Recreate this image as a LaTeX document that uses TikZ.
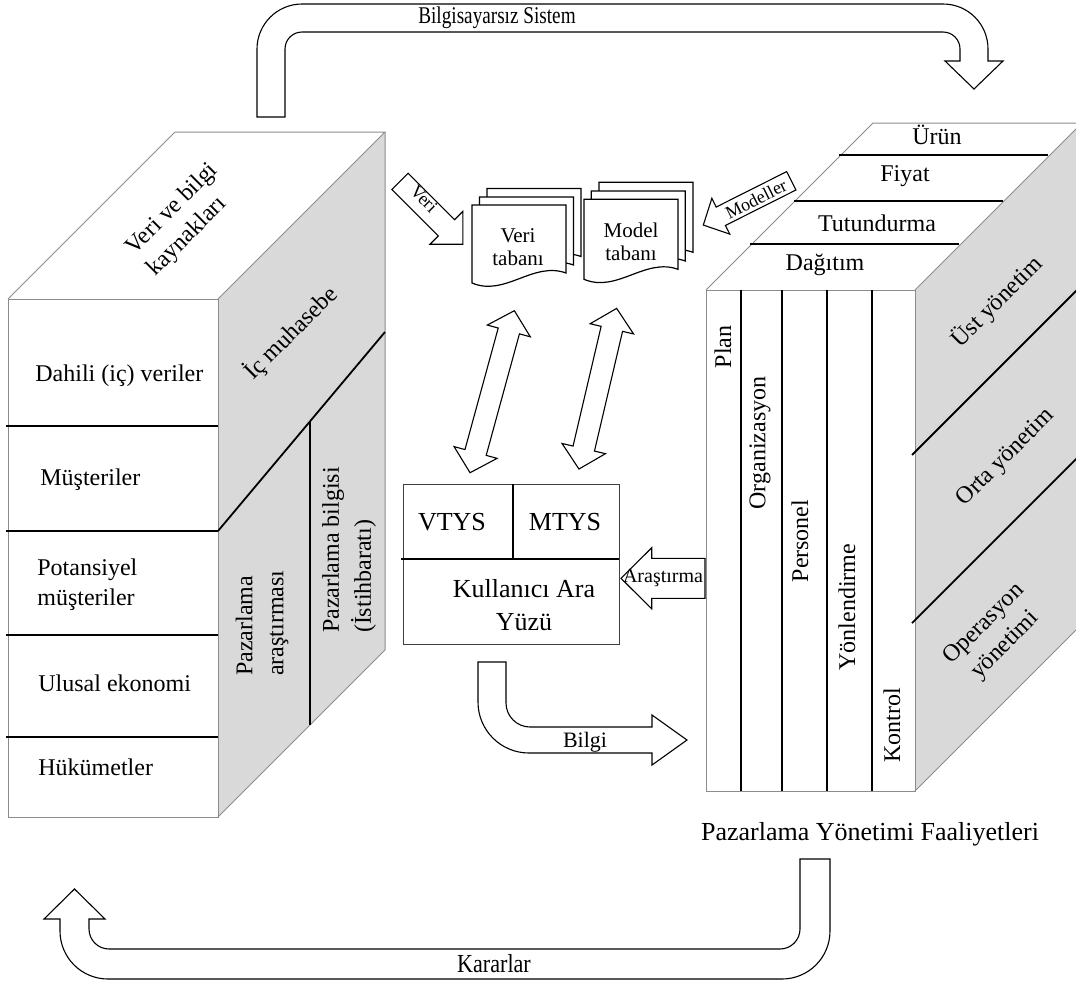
\documentclass[tikz,border=0pt]{standalone}
\usepackage{fontspec}
\setmainfont{Liberation Serif}
\definecolor{sidegray}{HTML}{D9D9D9}
\definecolor{edgegray}{HTML}{8C8C8C}
\begin{document}
\begin{tikzpicture}[x=0.5pt,y=-0.5pt,
  edge/.style={draw=edgegray, line width=0.5pt},
  boxedge/.style={draw=black!75, line width=0.5pt},
  divider/.style={draw=black, line width=0.9pt},
  blockline/.style={draw=black, line width=0.55pt, fill=white, line join=miter},
  docline/.style={draw=black, line width=0.6pt, fill=white},
  txt/.style={font=\fontsize{12}{15}\selectfont, inner sep=0pt, align=center},
  bigtxt/.style={font=\fontsize{13}{16.5}\selectfont, inner sep=0pt, align=center},
  doctxt/.style={font=\fontsize{10.5}{11.5}\selectfont, inner sep=0pt, align=center},
  arrtxt/.style={font=\fontsize{9}{10}\selectfont, inner sep=0pt},
  pics/sarrow/.style n args={4}{code={
    \draw[blockline] (0,-#2) -- ({#1-#4},-#2) -- ({#1-#4},-#3) -- (#1,0)
      -- ({#1-#4},#3) -- ({#1-#4},#2) -- (0,#2) -- cycle;
  }},
  pics/darrow/.style n args={4}{code={
    \draw[blockline] ({-#1/2},0) -- ({-#1/2+#4},#3) -- ({-#1/2+#4},#2)
      -- ({#1/2-#4},#2) -- ({#1/2-#4},#3) -- ({#1/2},0) -- ({#1/2-#4},-#3)
      -- ({#1/2-#4},-#2) -- ({-#1/2+#4},-#2) -- ({-#1/2+#4},-#3) -- cycle;
  }},
  pics/doc/.style n args={2}{code={
    \draw[docline] (0,0) -- (#1,0) -- (#1,{#2-10})
      .. controls ({0.65*#1},{#2-22}) and ({0.35*#1},{#2+14}) .. (0,#2) -- cycle;
  }},
]
\useasboundingbox (0,0) rectangle (1076,986);
\clip (0,0) rectangle (1076,986);

% ---------- data and information sources (left block) ----------
\fill[sidegray] (218,299) -- (385,132) -- (385,650) -- (218,817) -- cycle;
\draw[edge] (8,299) rectangle (218,817);
\draw[edge] (8,299) -- (175,132) -- (385,132) -- (218,299);
\draw[edge] (385,132) -- (385,650) -- (218,817);
\foreach \yy in {426,531,635,737} \draw[divider] (6,\yy) -- (218,\yy);
\draw[divider] (218,531) -- (385,332);
\draw[divider] (310,422) -- (310,725);

\node[txt, rotate=45, align=left] (sources) at (183,220) {Veri ve bilgi\\kaynakları};
\node[txt, rotate=45] (accounting) at (291,333) {İç muhasebe};
\node[txt, anchor=west] (internal) at (35,376) {Dahili (iç) veriler};
\node[txt, anchor=west] (customers) at (40,480) {Müşteriler};
\node[txt, anchor=west, align=left] (prospects) at (37,585) {Potansiyel\\müşteriler};
\node[txt, anchor=west] (economy) at (38,683) {Ulusal ekonomi};
\node[txt, anchor=west] (government) at (38,767) {Hükümetler};
\node[txt, rotate=90, align=left, font=\fontsize{12}{15.5}\selectfont] (research) at (262,623) {Pazarlama\\araştırması};
\node[txt, rotate=90, align=left, font=\fontsize{12}{16}\selectfont] (intel) at (349,550) {Pazarlama bilgisi\\(İstihbaratı)};

% ---------- marketing management activities (right block) ----------
\fill[sidegray] (915,290) -- (1082,123) -- (1082,624) -- (915,791) -- cycle;
\draw[edge] (706,290) rectangle (915,791);
\draw[edge] (706,290) -- (873,123) -- (1082,123) -- (915,290);
\draw[edge] (1082,123) -- (1082,624) -- (915,791);
\draw[divider] (839,155) -- (1048,155);
\draw[divider] (794,201) -- (1003,201);
\draw[divider] (750,244) -- (959,244);
\foreach \xx in {741,782,827,872} \draw[divider] (\xx,290) -- (\xx,791);
\draw[divider] (912,455) -- (1082,285);
\draw[divider] (912,623) -- (1082,453);

\node[txt] (product) at (937,135) {Ürün};
\node[txt] (price) at (905,176) {Fiyat};
\node[txt] (promotion) at (877,223) {Tutundurma};
\node[txt] (distribution) at (825,265) {Dağıtım};
\node[txt, rotate=90] (plan) at (723,347) {Plan};
\node[txt, rotate=90] (organize) at (760,443) {Organizasyon};
\node[txt, rotate=90] (staff) at (800,541) {Personel};
\node[txt, rotate=90] (direct) at (847,607) {Yönlendirme};
\node[txt, rotate=90] (control) at (892,725) {Kontrol};
\node[txt, rotate=45] (top) at (997,302) {Üst yönetim};
\node[txt, rotate=45] (middle) at (1006,458) {Orta yönetim};
\node[txt, rotate=45] (operations) at (995,635) {Operasyon\\yönetimi};
\node[bigtxt] (activities) at (870,834) {Pazarlama Yönetimi Faaliyetleri};

% ---------- data base and model base ----------
\pic at (487,188.5) {doc={94}{78}};
\pic at (479.5,197) {doc={94}{78}};
\pic at (472,205) {doc={94}{78}};
\node[doctxt] (database) at (518,247) {Veri\\tabanı};
\pic at (599,182.3) {doc={94}{80}};
\pic at (591.3,191) {doc={94}{80}};
\pic at (584,199.3) {doc={94}{80}};
\node[doctxt] (modelbase) at (631,242) {Model\\tabanı};

% ---------- management systems and user interface ----------
\draw[boxedge] (403,484) rectangle (619,644);
\draw[divider] (401,559) -- (619,559);
\draw[divider] (513,484) -- (513,559);
\node[bigtxt] (dbms) at (452,522) {VTYS};
\node[bigtxt] (mbms) at (565,522) {MTYS};
\node[bigtxt] (ui) at (524,605) {Kullanıcı Ara\\Yüzü};

% ---------- block arrows ----------
\pic[rotate=-45] at (400,181.3) {sarrow={89}{11.5}{23.3}{23.3}};
\node[arrtxt, rotate=-45] (datain) at (424,199) {Veri};
\pic[rotate=206.7] at (791.3,180.8) {sarrow={98.5}{10.3}{20}{19.6}};
\node[arrtxt, rotate=26.7] (modelsin) at (756,199) {Modeller};
\pic[rotate=180] at (705,578.3) {sarrow={84}{20}{30.5}{30.7}};
\node[arrtxt, font=\fontsize{10}{11}\selectfont] (query) at (663,578) {Araştırma};
\pic[rotate=74.7] at (492.2,391.7) {darrow={168}{11}{22.3}{21}};
\pic[rotate=76.8] at (597.8,388.7) {darrow={165}{11}{22.3}{21}};

% information flow to the activities
\draw[blockline] (478,662) -- (506,662) -- (506,703)
  .. controls (506,716.2) and (516.8,727) .. (530,727) -- (652,727)
  -- (652,715) -- (687,740) -- (652,765) -- (652,753) -- (529,753)
  .. controls (500.8,753) and (478,730.2) .. (478,702) -- cycle;
\node[arrtxt, font=\fontsize{11}{12}\selectfont] (info) at (585,742) {Bilgi};

% manual system loop at the top
\draw[blockline] (257,117) -- (257,49) .. controls (257,24.2) and (277.2,4) .. (302,4)
  -- (943,4) .. controls (968.2,4) and (988,24.2) .. (988,49) -- (988,61)
  -- (1003,61) -- (974,89) -- (945,61) -- (960,61) -- (960,49)
  .. controls (960,39.6) and (952.4,32) .. (943,32) -- (302,32)
  .. controls (292.6,32) and (285,39.6) .. (285,49) -- (285,117) -- cycle;
\node[arrtxt, font=\fontsize{12}{13}\selectfont] (manual) at (497,18) {\scalebox{0.8}[1]{Bilgisayarsız Sistem}};

% decisions loop at the bottom
\draw[blockline] (800,859) -- (830,859) -- (830,931)
  .. controls (830,957.5) and (808.5,979) .. (782,979) -- (108,979)
  .. controls (81.5,979) and (60,957.5) .. (60,931) -- (60,919)
  -- (44,919) -- (74.5,889) -- (105,919) -- (89,919) -- (89,929)
  .. controls (89,940) and (98,949) .. (109,949) -- (780,949)
  .. controls (791,949) and (800,940) .. (800,929) -- cycle;
\node[arrtxt, font=\fontsize{13}{14}\selectfont] (decisions) at (494,964) {\scalebox{0.85}[1]{Kararlar}};
\end{tikzpicture}
\end{document}
